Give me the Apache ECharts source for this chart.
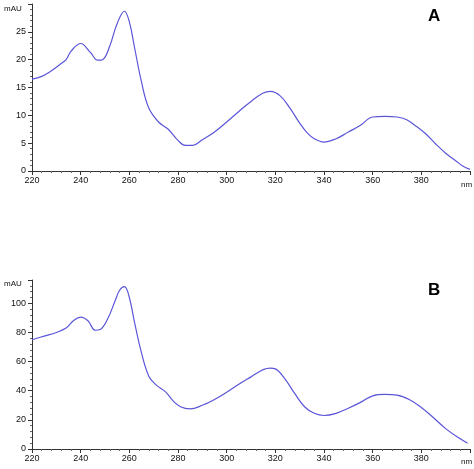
<!DOCTYPE html>
<html>
<head>
<meta charset="utf-8">
<script src="https://cdn.jsdelivr.net/npm/echarts@6/dist/echarts.min.js"></script>
<style>html,body{margin:0;padding:0;background:#fff}#chart{width:474px;height:469px}</style>
</head>
<body>
<div id="chart"></div>
<script>
// spectrum A (nm, mAU)
const nmA = [220,224,228,232,234,236,240,244,247,249,252,255,258,260,262,265,268,272,276,280,283,286,290,295,300,305,310,315,318,322,326,330,333,336,340,345,350,355,360,365,370,374,378,382,386,390,394,397,400];
const auA = [16.5,17,18,19.3,20,21.5,22.9,21.3,19.9,20,22.5,26.5,28.7,26.8,22.5,16,11.3,8.8,7.5,5.5,4.6,4.6,5.6,7,8.8,10.7,12.5,14,14.3,13.5,11.3,8.6,6.9,5.8,5.2,5.8,7,8.2,9.7,9.8,9.7,9.2,8,6.6,4.8,3.2,1.9,0.9,0.3];
// spectrum B
const nmB = [220,225,230,234,237,240,243,246,248,251,254,256,258,260,262,265,268,271,275,278,281,285,290,295,300,305,310,315,318,320,324,328,332,336,340,345,350,355,360,365,370,375,380,385,390,395,399];
const auB = [75,77.5,80,83,88,90.5,88,81.5,82,89,101,109,111.5,104,88,66,50,44,39,33,29,27.5,30,34,39,44.5,49.5,54.5,55.5,55,48,38,29,24.5,23,24.5,28,32,36.5,37.5,37,34,28.5,21.5,14,8,4];

const lineColor = '#5b55d9';
const axisCol = '#333';

function xAxis(grid) {
  return {
    type: 'value', gridIndex: grid, min: 220, max: 400, interval: 20,
    axisLine: { lineStyle: { color: axisCol } },
    axisTick: { length: 4, lineStyle: { color: axisCol } },
    minorTick: { show: true, splitNumber: 5, length: 2, lineStyle: { color: '#666' } },
    splitLine: { show: false },
    axisLabel: { fontSize: 9, color: '#111', margin: 5,
      formatter: v => (v === 400 ? '' : v) }
  };
}
function yAxis(grid, max, step) {
  return {
    type: 'value', gridIndex: grid, min: 0, max: max, interval: step,
    axisLine: { show: true, lineStyle: { color: axisCol } },
    axisTick: { show: true, length: 4, lineStyle: { color: axisCol } },
    minorTick: { show: true, splitNumber: 5, length: 2, lineStyle: { color: '#666' } },
    splitLine: { show: false },
    axisLabel: { fontSize: 9, color: '#111', margin: 6,
      formatter: v => (v % step === 0 && v < max ? v : '') }
  };
}

const chart = echarts.init(document.getElementById('chart'));
chart.setOption({
  animation: false,
  grid: [
    { left: 32, right: 4, top: 4, height: 167 },
    { left: 32, right: 4, top: 280, height: 169 }
  ],
  xAxis: [xAxis(0), xAxis(1)],
  yAxis: [yAxis(0, 30, 5), yAxis(1, 116, 20)],
  graphic: [
    { type: 'text', left: 4, top: 5, style: { text: 'mAU', fontSize: 8, fill: '#111' } },
    { type: 'text', left: 4, top: 280, style: { text: 'mAU', fontSize: 8, fill: '#111' } },
    { type: 'text', left: 461, top: 181, style: { text: 'nm', fontSize: 8, fill: '#111' } },
    { type: 'text', left: 461, top: 458, style: { text: 'nm', fontSize: 8, fill: '#111' } },
    { type: 'text', left: 428, top: 8, style: { text: 'A', fontSize: 17, fontWeight: 'bold', fill: '#000', fontFamily: 'Liberation Sans' } },
    { type: 'text', left: 428, top: 282, style: { text: 'B', fontSize: 17, fontWeight: 'bold', fill: '#000', fontFamily: 'Liberation Sans' } }
  ],
  series: [
    { type: 'line', xAxisIndex: 0, yAxisIndex: 0, smooth: 0.4, showSymbol: false,
      lineStyle: { color: lineColor, width: 1.2 }, data: nmA.map((x, i) => [x, auA[i]]) },
    { type: 'line', xAxisIndex: 1, yAxisIndex: 1, smooth: 0.4, showSymbol: false,
      lineStyle: { color: lineColor, width: 1.2 }, data: nmB.map((x, i) => [x, auB[i]]) }
  ]
});
</script>
</body>
</html>
